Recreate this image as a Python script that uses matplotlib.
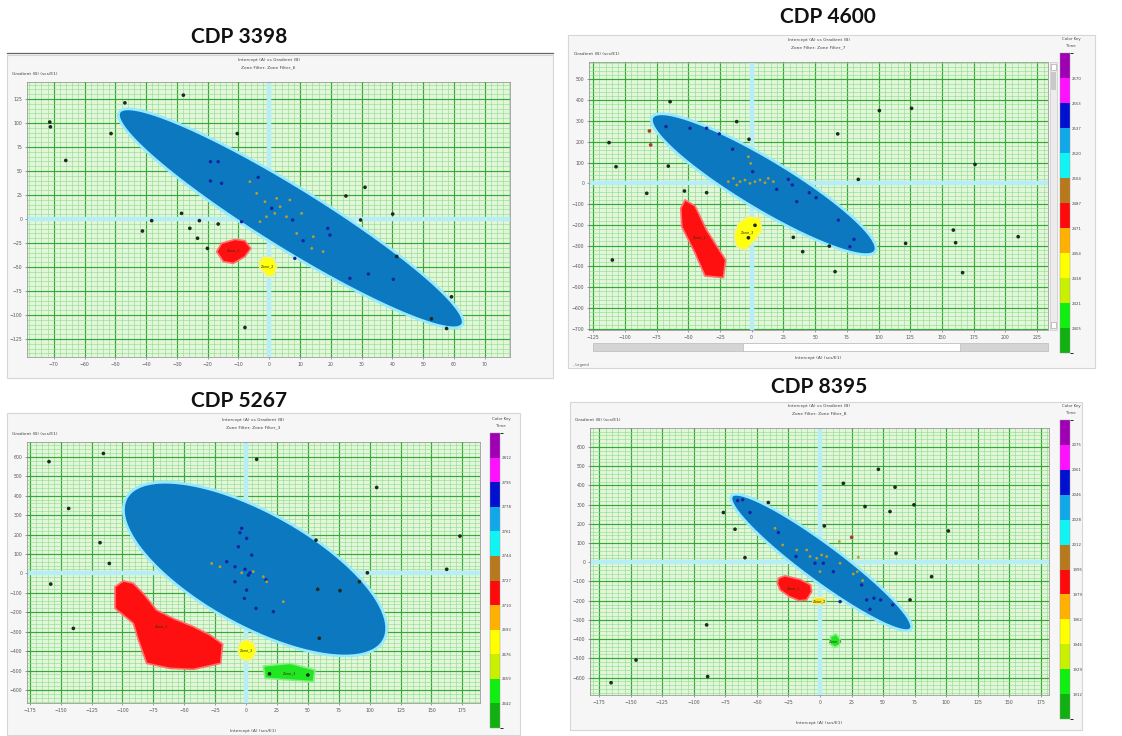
import numpy as np
import matplotlib
matplotlib.use('Agg')
import matplotlib.pyplot as plt
from matplotlib.patches import Rectangle, Polygon
from matplotlib.colors import ListedColormap, BoundaryNorm
from matplotlib.cm import ScalarMappable
from matplotlib.ticker import MultipleLocator

# ---- data read off the four crossplots (intercept A, gradient B) ----
# ellipse = [centre x, centre y, rightmost x, rightmost y, vertical half chord]

# CDP 3398
cdp3398_ellipse = [7, 0.7, 63, -107, 37.5]
cdp3398_red = [(-17.1, -34), (-15.5, -25.3), (-11.1, -21.2), (-7.9, -22.6), (-6.0, -30.6),
               (-7.9, -39.2), (-11.7, -46.2), (-14.9, -44.4)]
cdp3398_yellow = [(-3.0, -42.7), (-1.4, -39.2), (1.3, -41), (2.4, -49.7), (1.5, -58.3),
                  (-0.3, -60), (-1.9, -55), (-3.2, -49.7)]
cdp3398_dark = [(-71.3, 101), (-71.1, 96), (-66.1, 61), (-51.4, 89), (-46.9, 121), (-27.9, 129),
                (-10.4, 89), (-41.2, -12.5), (-38.2, -1.7), (-28.5, 5.9), (-25.8, -9.7),
                (-22.7, -1.7), (-23.3, -20), (-20.1, -30.6), (-16.6, -5.2), (-7.9, -113),
                (24.9, 24), (31.1, 33), (29.7, -1), (40.1, 5.2), (59.2, -81), (41.4, -39),
                (57.6, -114), (52.7, -104)]
cdp3398_blue = [(-19.1, 59.7), (-16.6, 59.7), (-19.1, 39.6), (-15.5, 37.2), (-3.6, 43.4),
                (19, -9.7), (19.7, -16.7), (11, -22.6), (26.2, -61.8), (32.2, -57.3),
                (40.3, -62.8), (0.8, 11.1), (7.6, -1), (-9, -2.8), (8.3, -41)]
cdp3398_gold = [(-6.3, 38.9), (-4.1, 26.7), (-1.4, 18), (2.4, 21.5), (3.5, 12.8), (5.6, 2.4),
                (-0.9, 2.4), (-3, -2.8), (8.9, -15), (14.3, -18.4), (17.5, -34), (13.8, -30.6),
                (1.8, 5.9), (6.7, 19.8), (10.5, 5.9)]

# CDP 4600
cdp4600_ellipse = [9.5, -4.3, 98, -313, 140]
cdp4600_red = [(-55.9, -120), (-52.5, -80), (-44.6, -109), (-35.5, -225), (-20.5, -369),
               (-22.3, -454), (-36.8, -446), (-44.6, -337), (-55.1, -209)]
cdp4600_yellow = [(-10.5, -193), (-2.6, -160), (6.6, -169), (7.9, -225), (2.6, -273),
                  (-5.3, -321), (-11.8, -305), (-13.7, -249)]
cdp4600_dark = [(-64.3, 393), (-112.4, 196), (-106.9, 80), (-82.7, -48), (-65.7, 83), (-53, -37),
                (-35.5, -45), (-11.8, 297), (-2.1, 212), (67.8, 238), (100.6, 350), (126, 361),
                (176, 91), (84, 19), (32.8, -260), (40.2, -329), (61.2, -302), (65.7, -425),
                (121.3, -289), (158.9, -225), (160.7, -286), (166.2, -430), (210, -257),
                (-109.8, -369), (2.6, -202), (-2.6, -262)]
cdp4600_brown = [(-80.6, 252), (-79.6, 185)]
cdp4600_blue = [(-67.5, 273), (-48.6, 265), (-35.5, 265), (-25.5, 238), (-15, 164), (0.8, 56),
                (28.9, 19), (32, -8), (19.7, -29), (45.4, -45), (50.7, -69), (35.5, -88),
                (68.3, -177), (80.6, -270), (77.4, -305)]
cdp4600_gold = [(-18.4, 8), (-14.4, 24), (-9.2, 8), (-5.3, 16), (-1.3, 0), (2.6, 8), (6.6, 16),
                (10.5, 3), (13.1, 24), (-2.6, 128), (-0.8, 96), (17.1, 8), (-11.8, -8)]

# CDP 5267
cdp5267_ellipse = [7.3, 22, 113.8, -283, 327]
cdp5267_red = [(-106, -69), (-99.2, -39), (-91.2, -51), (-83.1, -103), (-72.3, -189),
               (-58.8, -232), (-42.6, -274), (-29.1, -317), (-18.9, -364), (-20.5, -463),
               (-42.6, -494), (-61.5, -489), (-80.4, -463), (-87.1, -343), (-91.2, -257),
               (-106, -180)]
cdp5267_yellow = [(-4.9, -360), (0.5, -340), (5.9, -360), (8.1, -398), (5.4, -437),
                  (0.5, -451), (-4.3, -437), (-6.5, -398)]
cdp5267_green = [(14, -477), (35.6, -463), (55.8, -497), (54.5, -557), (35.6, -549), (15.4, -540)]
cdp5267_dark = [(-159.4, 575), (-115.4, 617), (8.6, 587), (-143.5, 334), (-118.1, 158),
                (-110.6, 51), (-158, -55), (-139.7, -283), (56.6, 171), (105.7, 442),
                (173.1, 192), (162.4, 21), (98.2, 3), (91.7, -43), (58, -82), (59.3, -334),
                (76, -89), (19, -517), (50, -523)]
cdp5267_blue = [(-3.5, 232), (-4.9, 209), (0.5, 180), (-6.2, 137), (4.6, 94), (-15.6, 60),
                (-8.9, 34), (-0.8, 21), (3.2, 3), (1.9, -9), (-8.9, -43), (0.5, -86),
                (-1.3, -129), (8.1, -180), (22.1, -197), (16.2, -34)]
cdp5267_gold = [(-27.8, 51), (-21, 34), (-3.5, 3), (5.9, 9), (14, -17), (16.7, -43), (30.2, -146)]

# CDP 8395
cdp8395_ellipse = [1, -1, 72.7, -335, 120]
cdp8395_red = [(-33, -83), (-27.8, -71), (-15.9, -89), (-7.4, -118), (-6.6, -153),
               (-10.6, -196), (-16.4, -200), (-24.3, -179), (-31.7, -144), (-33.8, -109)]
cdp8395_yellow = [(-5.8, -193), (-1.3, -182), (4.0, -189), (4.5, -210), (0, -219), (-5.3, -215)]
cdp8395_green = [(8.5, -387), (12.7, -373), (15.9, -400), (15.3, -429), (11.9, -443), (7.9, -425)]
cdp8395_dark = [(46.3, 484), (18.5, 411), (59.5, 391), (35.7, 290), (74.5, 299), (55.5, 264),
                (-76.6, 259), (-67.4, 172), (-59.5, 24), (101.8, 163), (60.3, 47), (88.5, -75),
                (71.4, -196), (-89.9, -326), (-145.9, -509), (-89.1, -595), (-165.7, -627),
                (-41, 311), (3.4, 189)]
cdp8395_brown = [(25.1, 130)]
cdp8395_blue = [(-65.3, 321), (-61.3, 325), (-55.5, 259), (-33, 155), (-19, 30), (-4, -5),
                (2.6, -5), (10.6, -49), (33, -118), (37, -196), (42.8, -187), (48.1, -196),
                (57.6, -222), (39.6, -245), (15.9, -205)]
cdp8395_gold = [(-35.7, 177), (-29.6, 90), (-18.5, 64), (-10.6, 64), (-7.9, 30), (-2.6, 21),
                (1.3, 38), (0, -49), (5.3, 30), (15.9, -5), (26.4, -61), (29.6, -49),
                (30.4, 26), (33.8, -95), (15.3, 108)]

# colour key (time), top to bottom
key_colors = ['#a000b4', '#ff10ff', '#0010d0', '#10a8e8', '#10f4f4', '#b8781c',
              '#ff0a0a', '#ffb000', '#ffff00', '#c8f000', '#10f010', '#10b010']
key_4600 = ['2570', '2553', '2537', '2520', '2504', '2487', '2471', '2454', '2438', '2421', '2405']
key_5267 = ['2812', '2795', '2778', '2761', '2744', '2727', '2710', '2693', '2676', '2659', '2642']
key_8395 = ['2075', '2061', '2046', '2028', '2012', '1995', '1979', '1962', '1946', '1929', '1912']

W, H = 1122, 736
fig = plt.figure(figsize=(W / 100, H / 100), dpi=100)
fig.patch.set_facecolor('white')


def fbox(x0, y0, x1, y1):
    # pixel box (top-left origin) -> figure fraction rect
    return [x0 / W, 1 - y1 / H, (x1 - x0) / W, (y1 - y0) / H]


def frect(x0, y0, x1, y1, fc, ec='none', lw=0.6, z=0):
    fig.add_artist(Rectangle((x0 / W, 1 - y1 / H), (x1 - x0) / W, (y1 - y0) / H,
                             transform=fig.transFigure, facecolor=fc, edgecolor=ec, lw=lw, zorder=z))


def ftext(x, y, s, **kw):
    fig.text(x / W, 1 - y / H, s, **kw)


def draw_panel(title, title_xy, frame, box, xlim, ylim, xstep, ystep, ellipse, zones,
               dark, blue, gold, brown, filt, key_box=None, key_labels=None, xlabel=True):
    frect(*frame, fc='#f6f6f6', ec='#d6d6d6', lw=0.8)
    ftext(title_xy[0], title_xy[1], title, ha='center', va='center', fontsize=15,
          fontweight='bold', family='Lato', color='#111111')
    cx = (box[0] + box[2]) / 2
    ftext(cx, box[1] - 22, 'Intercept (A) vs Gradient (B)', ha='center', va='center',
          fontsize=3.2, color='#444444')
    ftext(cx, box[1] - 15, 'Zone Filter: ' + filt, ha='center', va='center',
          fontsize=3.2, color='#444444')
    ftext(box[0] - 15, box[1] - 8, 'Gradient (B) (scs/E1)', ha='left', va='center',
          fontsize=3.2, color='#444444')
    if xlabel:
        ftext(cx, box[3] + 28, 'Intercept (A) (scs/E1)', ha='center', va='center',
              fontsize=3.2, color='#444444')

    ax = fig.add_axes(fbox(*box))
    ax.set_facecolor('#e2f7da')
    ax.set_xlim(*xlim)
    ax.set_ylim(*ylim)
    ax.xaxis.set_major_locator(MultipleLocator(xstep))
    ax.yaxis.set_major_locator(MultipleLocator(ystep))
    ax.xaxis.set_minor_locator(MultipleLocator(xstep / 5))
    ax.yaxis.set_minor_locator(MultipleLocator(ystep / 5))
    ax.set_axisbelow(True)
    ax.grid(which='minor', color='#8ed98e', lw=0.4)
    ax.grid(which='major', color='#36a836', lw=0.85)
    ax.tick_params(which='major', labelsize=3.3, length=1.5, width=0.4, pad=2,
                   colors='#555555')
    ax.tick_params(which='minor', length=0)
    for sp in ax.spines.values():
        sp.set_color('#8a8a8a')
        sp.set_linewidth(0.5)

    # zero lines
    ax.axhline(0, color='#b6eef6', lw=3.2, zorder=1)
    ax.axvline(0, color='#b6eef6', lw=3.2, zorder=1)

    # background trend ellipse
    ecx, ecy, erx, ery, eh = ellipse
    t = np.linspace(0, 2 * np.pi, 240)
    ex = ecx + (erx - ecx) * np.cos(t)
    ey = ecy + (ery - ecy) * np.cos(t) + eh * np.sin(t)
    ax.fill(ex, ey, facecolor='#0b78c0', edgecolor='#96eaff', lw=2.0, zorder=2)

    # zones
    for name, verts, fc, ec in zones:
        ax.add_patch(Polygon(verts, closed=True, facecolor=fc, edgecolor=ec, lw=1.2, zorder=3))
        vx = np.mean([v[0] for v in verts])
        vy = np.mean([v[1] for v in verts])
        ax.text(vx, vy, name, fontsize=2.6, color='#333300', ha='center', va='center', zorder=3.5)

    for pts, col, size in [(dark, '#1d2a1d', 7), (brown, '#a83c20', 7),
                           (blue, '#1424a0', 6), (gold, '#b4a030', 4)]:
        if len(pts):
            ax.scatter([p[0] for p in pts], [p[1] for p in pts], s=size, color=col,
                       edgecolors='none', zorder=4)

    if key_box is not None:
        ftext((key_box[0] + key_box[2]) / 2 + 6, key_box[1] - 14, 'Color Key', ha='center',
              va='center', fontsize=2.8, color='#444444')
        ftext((key_box[0] + key_box[2]) / 2 + 6, key_box[1] - 7, 'Time', ha='center',
              va='center', fontsize=2.8, color='#444444')
        cax = fig.add_axes(fbox(*key_box))
        cmap = ListedColormap(key_colors[::-1])
        norm = BoundaryNorm(np.arange(13), 12)
        cb = fig.colorbar(ScalarMappable(norm=norm, cmap=cmap), cax=cax, ticks=np.arange(1, 12))
        cb.ax.set_yticklabels(key_labels[::-1])
        cb.ax.tick_params(labelsize=2.8, length=0, pad=1.5, colors='#444444')
        cb.outline.set_linewidth(0.3)
        cb.outline.set_edgecolor('#999999')
    return ax


# CDP 3398 (top left)
fig.add_artist(plt.Line2D([7 / W, 553 / W], [1 - 53 / H, 1 - 53 / H], transform=fig.transFigure,
                          color='#666666', lw=0.9))
draw_panel('CDP 3398', (239, 37), (7, 55, 553, 378), (27, 82, 510, 357), (-78.7, 78.2),
           (-143.7, 142.7), 10, 25, cdp3398_ellipse,
           [('Zone_1', cdp3398_red, '#ff1010', '#ff7070'),
            ('Zone_2', cdp3398_yellow, '#ffff10', '#f4f080')],
           cdp3398_dark, cdp3398_blue, cdp3398_gold, [], 'Zone Filter_6', xlabel=False)

# CDP 4600 (top right)
draw_panel('CDP 4600', (828, 17), (568, 35, 1095, 368), (589, 62, 1048, 330), (-128.2, 233.5),
           (-706, 584), 25, 100, cdp4600_ellipse,
           [('Zone_1', cdp4600_red, '#ff1010', '#ff7070'),
            ('Zone_2', cdp4600_yellow, '#ffff10', '#f4f080')],
           cdp4600_dark, cdp4600_blue, cdp4600_gold, cdp4600_brown, 'Zone Filter_7',
           key_box=(1060, 53, 1070, 353), key_labels=key_4600)
# scroll bars of the 4600 window
frect(1050, 62, 1057, 330, fc='#ececec', ec='#bdbdbd', lw=0.4, z=5)
frect(1051, 64, 1056, 70, fc='#ffffff', ec='#9a9a9a', lw=0.4, z=5)
frect(1051, 72, 1056, 90, fc='#c9c9c9', ec='none', z=5)
frect(1051, 322, 1056, 328, fc='#ffffff', ec='#9a9a9a', lw=0.4, z=5)
frect(593, 343, 1048, 351, fc='#d4d4d4', ec='#b0b0b0', lw=0.4, z=5)
frect(743, 343, 960, 351, fc='#ffffff', ec='#b0b0b0', lw=0.4, z=5)
ftext(573, 365, '- Legend', fontsize=2.6, color='#555555', va='center')

# CDP 5267 (bottom left)
draw_panel('CDP 5267', (239, 401), (7, 413, 520, 735), (27, 442, 480, 703), (-177.2, 189.3),
           (-667, 676), 25, 100, cdp5267_ellipse,
           [('Zone_1', cdp5267_red, '#ff1010', '#ff7070'),
            ('Zone_2', cdp5267_yellow, '#ffff10', '#f4f080'),
            ('Zone_3', cdp5267_green, '#22e622', '#80f080')],
           cdp5267_dark, cdp5267_blue, cdp5267_gold, [], 'Zone Filter_3',
           key_box=(490, 433, 500, 728), key_labels=key_5267)

# CDP 8395 (bottom right)
draw_panel('CDP 8395', (819, 387), (570, 402, 1082, 730), (590, 428, 1049, 695), (-182.4, 181.6),
           (-691, 699), 25, 100, cdp8395_ellipse,
           [('Zone_1', cdp8395_red, '#ff1010', '#ff7070'),
            ('Zone_2', cdp8395_yellow, '#f8e020', '#f4f080'),
            ('Zone_3', cdp8395_green, '#22e622', '#80f080')],
           cdp8395_dark, cdp8395_blue, cdp8395_gold, cdp8395_brown, 'Zone Filter_8',
           key_box=(1060, 420, 1070, 719), key_labels=key_8395)

fig.savefig('out.png', dpi=100)
